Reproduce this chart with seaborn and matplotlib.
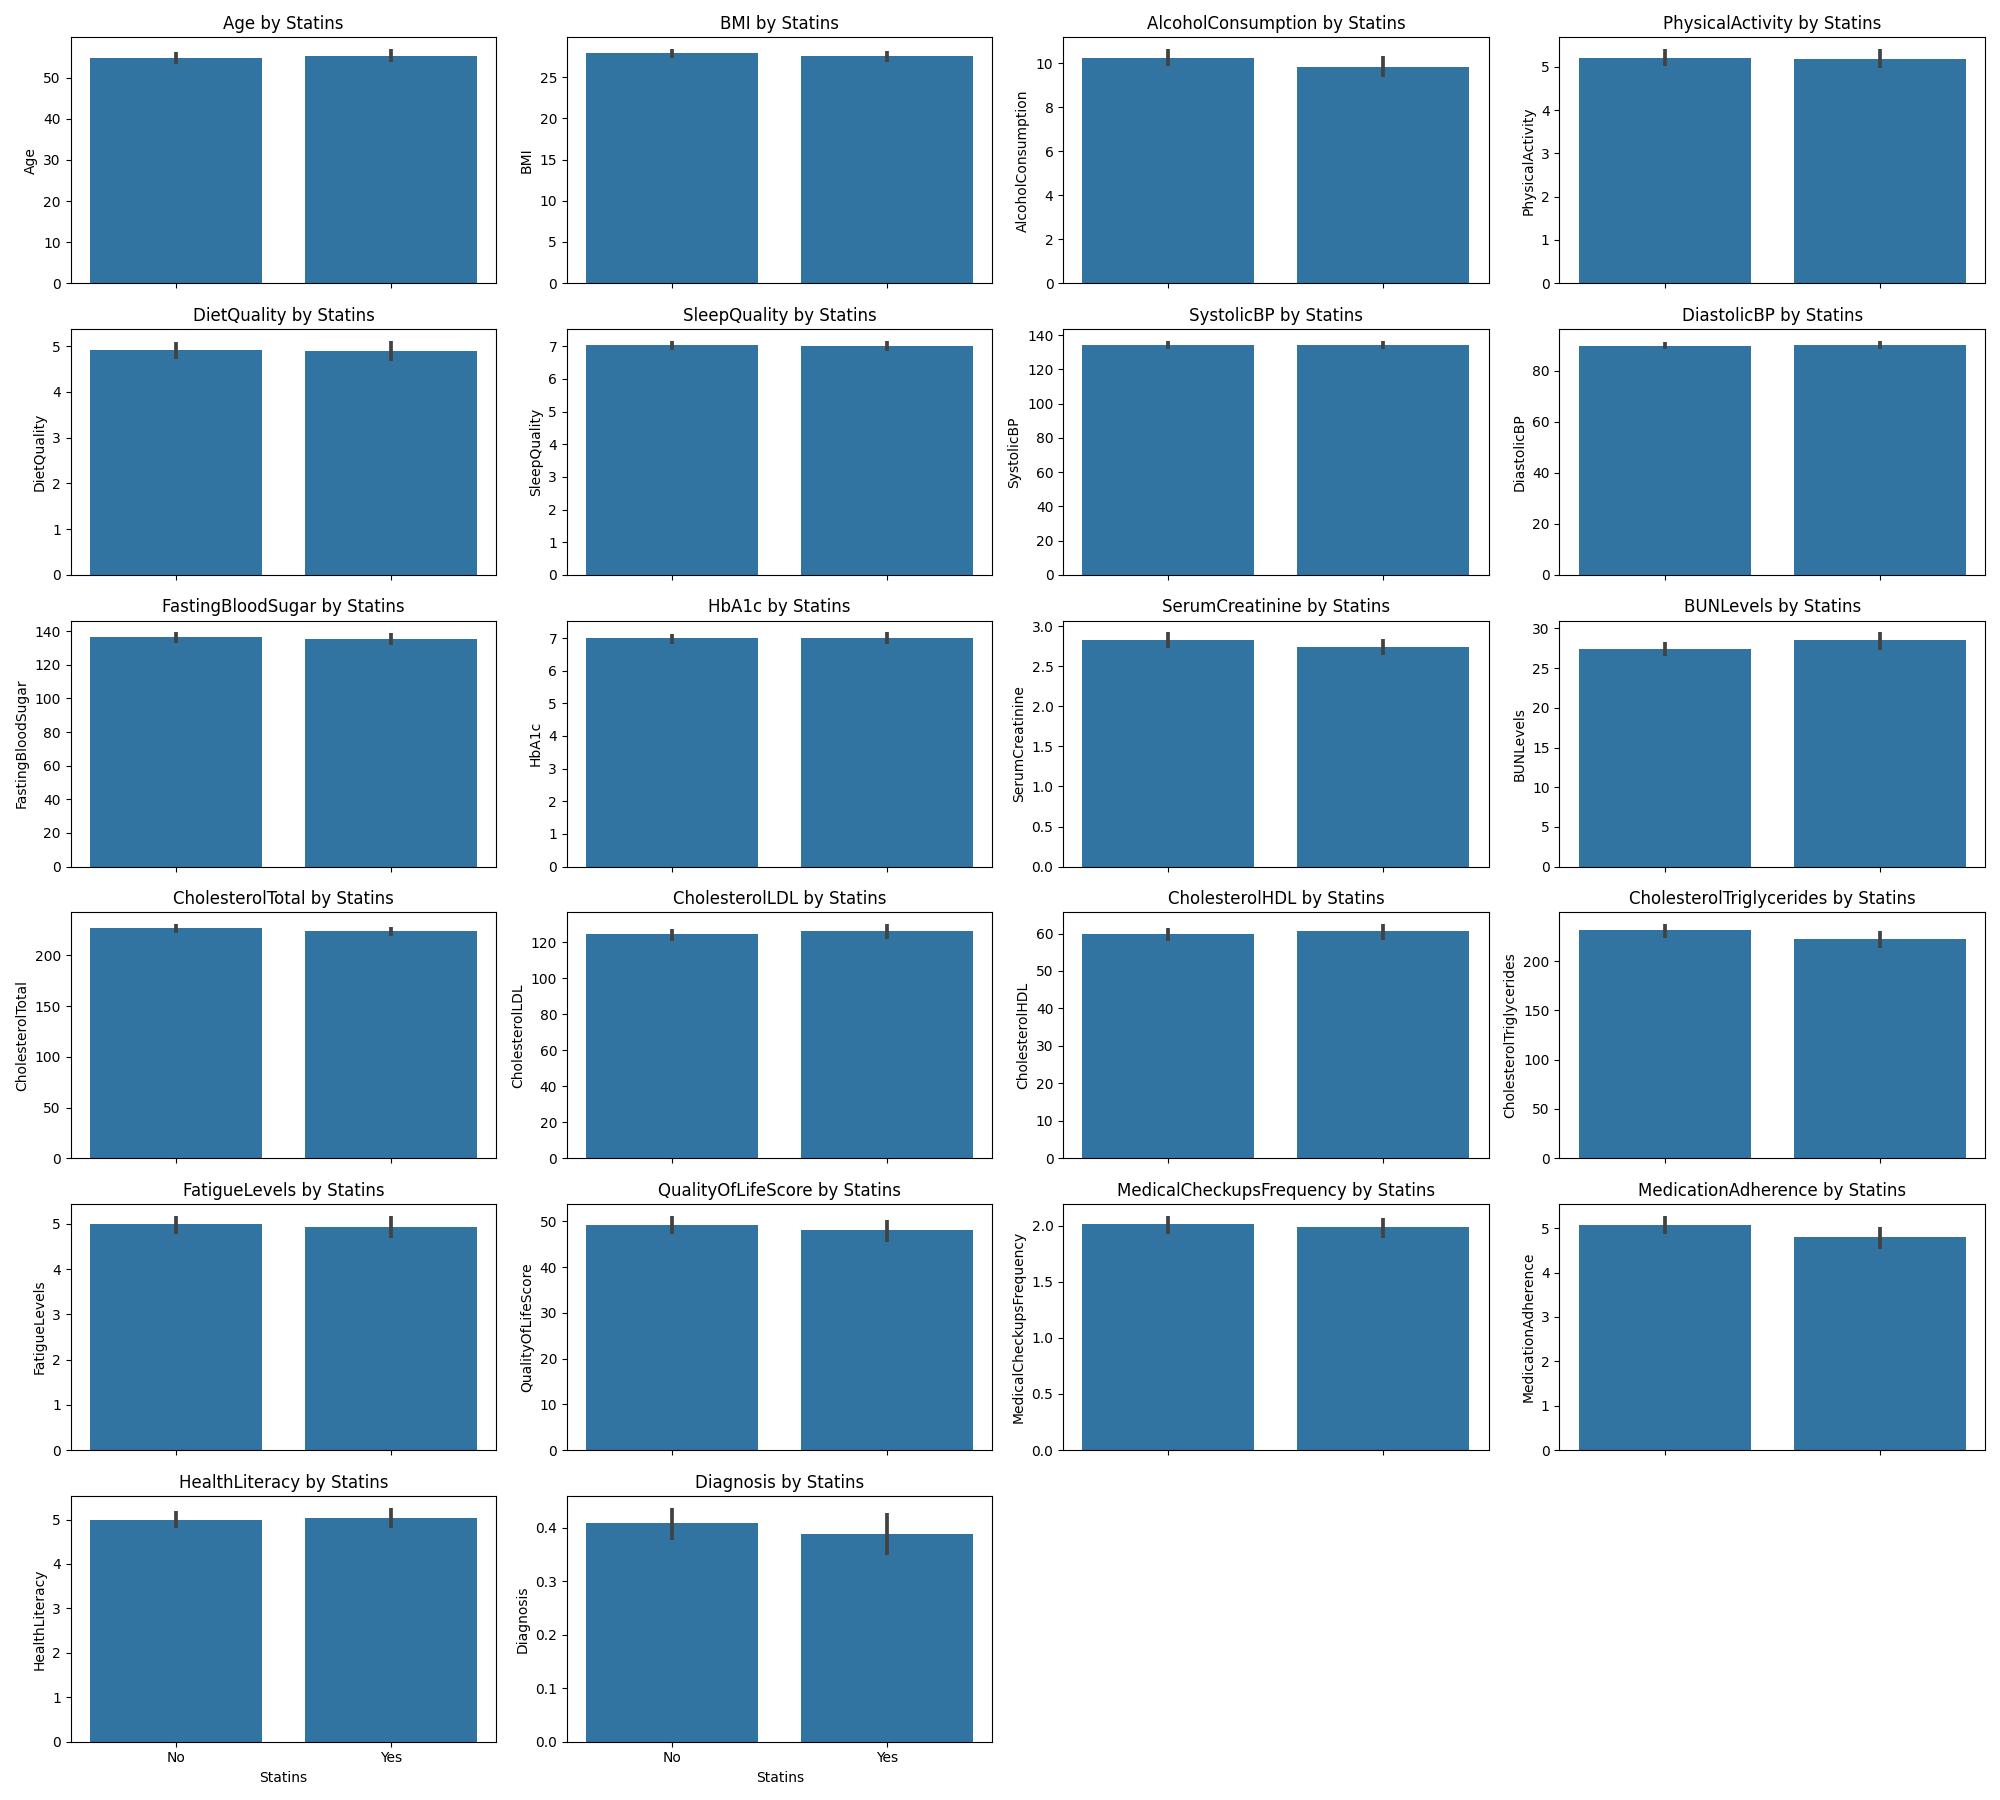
import pandas as pd
import numpy as np
import seaborn as sns
import matplotlib
matplotlib.use("Agg")
import matplotlib.pyplot as plt

groups = ["No", "Yes"]
variables = ["Age", "BMI", "AlcoholConsumption", "PhysicalActivity",
             "DietQuality", "SleepQuality", "SystolicBP", "DiastolicBP",
             "FastingBloodSugar", "HbA1c", "SerumCreatinine", "BUNLevels",
             "CholesterolTotal", "CholesterolLDL", "CholesterolHDL", "CholesterolTriglycerides",
             "FatigueLevels", "QualityOfLifeScore", "MedicalCheckupsFrequency", "MedicationAdherence",
             "HealthLiteracy", "Diagnosis"]

# group means
mean_no = [54.85, 27.86, 10.24, 5.21, 4.92, 7.04, 134.2, 89.9, 136.3, 6.99, 2.82, 27.4,
           226.8, 124.4, 59.8, 231.8, 4.99, 49.1, 2.012, 5.075, 5.00, 0.410]
mean_yes = [55.4, 27.5, 9.85, 5.18, 4.90, 7.01, 134.2, 90.2, 135.1, 6.99, 2.74, 28.5,
            223.9, 126.1, 60.6, 222.7, 4.93, 48.0, 1.985, 4.81, 5.04, 0.388]
# 95% CI ends of the error bars
lo_no = [53.3, 27.3, 9.86, 5.02, 4.72, 6.88, 131.7, 88.4, 132.7, 6.81, 2.72, 26.5,
         221.9, 120.6, 57.9, 223.7, 4.77, 47.2, 1.923, 4.87, 4.80, 0.378]
hi_no = [56.4, 28.4, 10.65, 5.41, 5.10, 7.17, 136.7, 91.4, 139.2, 7.11, 2.92, 28.3,
         230.7, 127.2, 61.4, 237.4, 5.18, 51.2, 2.086, 5.28, 5.20, 0.438]
lo_yes = [53.8, 26.8, 9.37, 4.97, 4.67, 6.85, 131.7, 88.4, 131.7, 6.81, 2.64, 27.3,
          219.3, 121.7, 58.2, 213.5, 4.69, 45.4, 1.888, 4.54, 4.80, 0.349]
hi_yes = [57.0, 28.2, 10.35, 5.41, 5.12, 7.17, 136.7, 91.8, 138.6, 7.17, 2.84, 29.5,
          227.8, 130.0, 62.5, 230.8, 5.18, 50.2, 2.065, 5.03, 5.27, 0.427]

rows = []
for i, var in enumerate(variables):
    rows.append(dict(variable=var, Statins="No", mean=mean_no[i], lo=lo_no[i], hi=hi_no[i]))
    rows.append(dict(variable=var, Statins="Yes", mean=mean_yes[i], lo=lo_yes[i], hi=hi_yes[i]))
summary = pd.DataFrame(rows)

fig, axes = plt.subplots(nrows=6, ncols=4, figsize=(20, 18))
axes = axes.flatten()

for i, var in enumerate(variables):
    ax = axes[i]
    sub = summary[summary.variable == var]
    sns.barplot(data=sub, x="Statins", y="mean", order=groups, color="#1f77b4",
                errorbar=None, ax=ax)
    ax.errorbar(x=np.arange(len(groups)), y=sub["mean"].values,
                yerr=[sub["mean"].values - sub["lo"].values, sub["hi"].values - sub["mean"].values],
                fmt="none", ecolor=".26", elinewidth=2.7, capsize=0)
    ax.set_title(f"{var} by Statins", fontsize=12)
    ax.set_ylabel(var)
    if i < 20:
        ax.set_xlabel("")
        ax.tick_params(labelbottom=False)
    else:
        ax.set_xlabel("Statins")

for j in range(len(variables), len(axes)):
    fig.delaxes(axes[j])

plt.tight_layout()
plt.savefig("out.png", dpi=100)
